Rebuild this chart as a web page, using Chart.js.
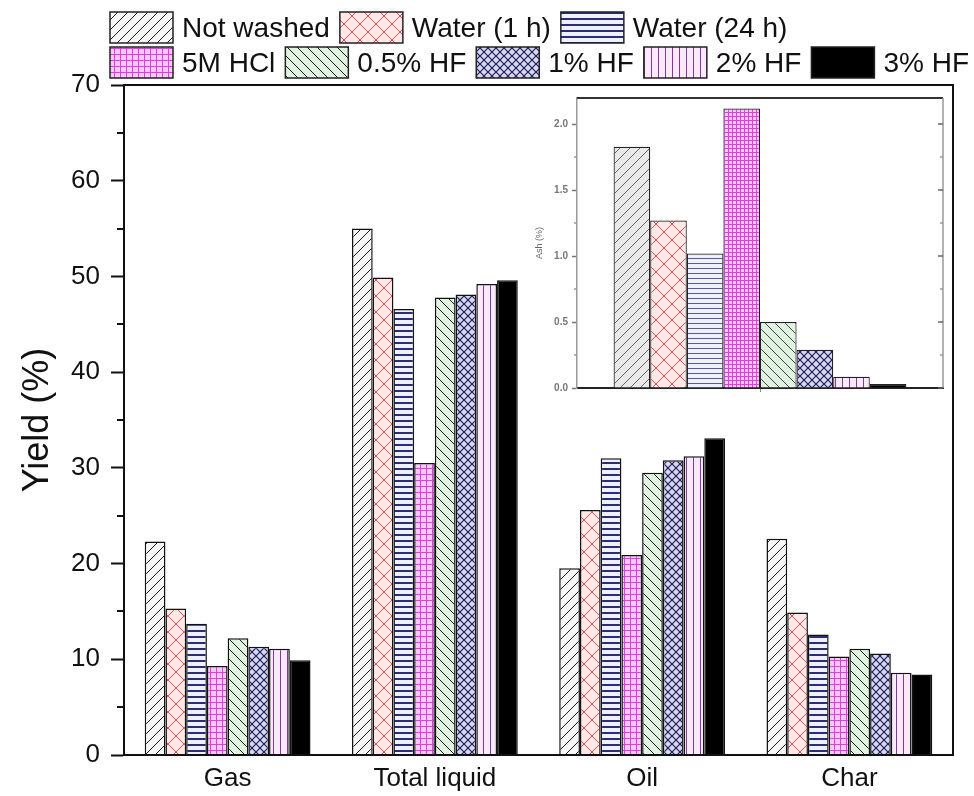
<!DOCTYPE html>
<html>
<head>
<meta charset="utf-8">
<script src="https://cdn.jsdelivr.net/npm/chart.js@4.4.1/dist/chart.umd.min.js"></script>
<style>
  html, body { margin: 0; background: #fff; }
  #wrap { position: relative; width: 974px; height: 796px; }
  #main { position: absolute; left: 0; top: 0; }
  #inset { position: absolute; left: 520px; top: 88px; }
</style>
</head>
<body>
<div id="wrap">
  <canvas id="main" width="974" height="796"></canvas>
  <canvas id="inset" width="430" height="312"></canvas>
</div>
<script>
// ── Data ──
const categories = ['Gas', 'Total liquid', 'Oil', 'Char'];
const seriesNames = ['Not washed', 'Water (1 h)', 'Water (24 h)', '5M HCl', '0.5% HF', '1% HF', '2% HF', '3% HF'];

const notWashed = [22.3, 55.0, 19.5, 22.6];
const water1h   = [15.3, 49.9, 25.6, 14.9];
const water24h  = [13.7, 46.6, 31.0, 12.6];
const hcl5m     = [9.3, 30.5, 20.9, 10.3];
const hf05      = [12.2, 47.8, 29.5, 11.1];
const hf1       = [11.3, 48.1, 30.8, 10.6];
const hf2       = [11.1, 49.2, 31.2, 8.6];
const hf3       = [9.9, 49.6, 33.1, 8.4];

// inset: ash content, one bar per treatment
const ash = [1.83, 1.27, 1.02, 2.12, 0.50, 0.29, 0.085, 0.03];
const ashTicks = [0, 0.5, 1.0, 1.5, 2.0];

const FONT = '"Liberation Sans", Arial, sans-serif';

// ── Hatch patterns ──
const scratch = document.createElement('canvas').getContext('2d');

function tile(w, h, bg, draw) {
  const c = document.createElement('canvas');
  c.width = w; c.height = h;
  const g = c.getContext('2d');
  g.fillStyle = bg;
  g.fillRect(0, 0, w, h);
  draw(g, w, h);
  return scratch.createPattern(c, 'repeat');
}

// dir > 0 draws '/', dir < 0 draws '\'
function diag(g, s, color, lw, dir) {
  g.strokeStyle = color;
  g.lineWidth = lw;
  g.beginPath();
  for (const o of [-s, 0, s]) {
    if (dir > 0) { g.moveTo(o, s); g.lineTo(o + s, 0); }
    else { g.moveTo(o, 0); g.lineTo(o + s, s); }
  }
  g.stroke();
}

function makeFills(light) {
  // light = true gives the finer, paler versions used in the inset
  return [
    tile(10, 10, light ? '#e9e9e9' : '#f6f6f6', g => diag(g, 10, light ? '#666' : '#1a1a1a', 1, 1)),
    tile(16, 16, '#fde8e5', g => { diag(g, 16, '#d8505c', 1, 1); diag(g, 16, '#d8505c', 1, -1); }),
    tile(6, light ? 5 : 6, '#eef0fb', g => { g.fillStyle = light ? '#5a5a96' : '#2c2c74'; g.fillRect(0, 0, 6, light ? 1 : 2); }),
    tile(light ? 4 : 6, light ? 4 : 6, '#f6c8f6', g => { g.fillStyle = '#e03ce0'; g.fillRect(0, 0, 6, 1); g.fillRect(0, 0, 1, 6); }),
    tile(10, 10, '#e0f2e0', g => diag(g, 10, light ? '#444' : '#1a1a1a', 1, -1)),
    tile(8, 8, '#d6d6f0', g => { diag(g, 8, '#20205a', 1.2, 1); diag(g, 8, '#20205a', 1.2, -1); }),
    tile(7, 7, '#fbe8fb', g => { g.fillStyle = '#7b3c9b'; g.fillRect(0, 0, 1, 7); }),
    '#000000',
  ];
}

const mainFills = makeFills(false);
const insetFills = makeFills(true);

// ── Plugins ──
const legendRows = [[0, 1, 2], [3, 4, 5, 6, 7]];

const rowLegend = {
  id: 'rowLegend',
  afterDraw(chart) {
    const ctx = chart.ctx;
    ctx.save();
    ctx.font = `28px ${FONT}`;
    ctx.textBaseline = 'middle';
    legendRows.forEach((row, r) => {
      let x = 110;
      const y = 12 + r * 35;
      row.forEach(i => {
        const ds = chart.data.datasets[i];
        ctx.fillStyle = ds.backgroundColor;
        ctx.fillRect(x, y, 63, 31);
        ctx.strokeStyle = '#222';
        ctx.lineWidth = 1.5;
        ctx.strokeRect(x, y, 63, 31);
        ctx.fillStyle = '#111';
        ctx.fillText(ds.label, x + 72, y + 17);
        x += 72 + ctx.measureText(ds.label).width + 10;
      });
    });
    ctx.restore();
  }
};

const mainFrame = {
  id: 'mainFrame',
  afterDraw(chart) {
    const { ctx, chartArea: a } = chart;
    const y = chart.scales.y;
    ctx.save();
    ctx.strokeStyle = '#111';
    ctx.lineWidth = 2;
    ctx.strokeRect(a.left, a.top, a.right - a.left, a.bottom - a.top);
    // minor ticks at the 5s
    ctx.beginPath();
    for (let v = 5; v < 70; v += 10) {
      const py = Math.round(y.getPixelForValue(v));
      ctx.moveTo(a.left - 7, py);
      ctx.lineTo(a.left, py);
    }
    ctx.stroke();
    ctx.restore();
  }
};

const insetFrame = {
  id: 'insetFrame',
  afterDraw(chart) {
    const { ctx, chartArea: a } = chart;
    const y = chart.scales.y;
    ctx.save();
    ctx.strokeStyle = '#333';
    ctx.lineWidth = 2;
    ctx.beginPath();
    ctx.moveTo(a.left, a.top); ctx.lineTo(a.right, a.top);
    ctx.stroke();
    ctx.strokeStyle = '#999';
    ctx.lineWidth = 1.5;
    ctx.beginPath();
    ctx.moveTo(a.right, a.top); ctx.lineTo(a.right, a.bottom);
    // right-side ticks (inward) and left minor ticks
    for (let v = 0.25; v < 2.2; v += 0.5) {
      const py = Math.round(y.getPixelForValue(v));
      ctx.moveTo(a.left - 3, py); ctx.lineTo(a.left, py);
      ctx.moveTo(a.right, py); ctx.lineTo(a.right - 3, py);
    }
    ctx.stroke();
    ctx.strokeStyle = '#666';
    ctx.beginPath();
    for (const v of ashTicks) {
      const py = Math.round(y.getPixelForValue(v));
      ctx.moveTo(a.right, py); ctx.lineTo(a.right - 5, py);
    }
    ctx.stroke();
    ctx.restore();
  }
};

// ── Main chart ──
const mainSeries = [notWashed, water1h, water24h, hcl5m, hf05, hf1, hf2, hf3];

new Chart(document.getElementById('main'), {
  type: 'bar',
  data: {
    labels: categories,
    datasets: mainSeries.map((d, i) => ({
      label: seriesNames[i],
      data: d,
      backgroundColor: mainFills[i],
      borderColor: '#111',
      borderWidth: 1.5,
    })),
  },
  options: {
    responsive: false,
    animation: false,
    layout: { padding: { top: 85, right: 21, bottom: 0, left: 0 } },
    datasets: { bar: { categoryPercentage: 0.8, barPercentage: 1.0 } },
    plugins: { legend: { display: false }, tooltip: { enabled: false } },
    scales: {
      x: {
        ticks: { color: '#111', font: { size: 26, family: FONT }, padding: 8 },
        grid: { display: true, drawOnChartArea: false, drawTicks: false },
        border: { display: true, color: '#111', width: 2 },
        afterFit(s) { s.height = 41; },
      },
      y: {
        min: 0, max: 70,
        ticks: { stepSize: 10, color: '#111', font: { size: 26, family: FONT }, padding: 11 },
        grid: { display: true, drawOnChartArea: false, drawTicks: true, tickLength: 13, tickWidth: 2, tickColor: '#111' },
        border: { display: true, color: '#111', width: 2 },
        title: { display: true, text: 'Yield (%)', color: '#111', font: { size: 36, family: FONT }, padding: { top: 16, bottom: 0 } },
        afterFit(s) { s.width = 124; },
      },
    },
  },
  plugins: [rowLegend, mainFrame],
});

// ── Inset chart ──
new Chart(document.getElementById('inset'), {
  type: 'bar',
  data: {
    labels: [''],
    datasets: ash.map((v, i) => ({
      label: seriesNames[i],
      data: [v],
      backgroundColor: insetFills[i],
      borderColor: '#222',
      borderWidth: 1.2,
    })),
  },
  options: {
    responsive: false,
    animation: false,
    layout: { padding: { top: 3, right: 7, bottom: 0, left: 0 } },
    datasets: { bar: { categoryPercentage: 0.8, barPercentage: 1.0 } },
    plugins: { legend: { display: false }, tooltip: { enabled: false } },
    scales: {
      x: {
        ticks: { display: false },
        grid: { display: true, offset: false, drawOnChartArea: false, drawTicks: true, tickLength: 4, tickColor: '#888', tickWidth: 1 },
        border: { display: true, color: '#222', width: 2 },
        afterFit(s) { s.height = 12; },
      },
      y: {
        min: 0, max: 2.2,
        afterBuildTicks(s) { s.ticks = ashTicks.map(v => ({ value: v })); },
        ticks: { callback: v => Number(v).toFixed(1), color: '#777', font: { size: 10, weight: 'bold', family: FONT }, padding: 4 },
        grid: { display: true, drawOnChartArea: false, drawTicks: true, tickLength: 5, tickWidth: 1.5, tickColor: '#777' },
        border: { display: true, color: '#999', width: 1.5 },
        title: { display: true, text: 'Ash (%)', color: '#666', font: { size: 9, family: FONT }, padding: { top: 14, bottom: 0 } },
        afterFit(s) { s.width = 57; },
      },
    },
  },
  plugins: [insetFrame],
});
</script>
</body>
</html>
